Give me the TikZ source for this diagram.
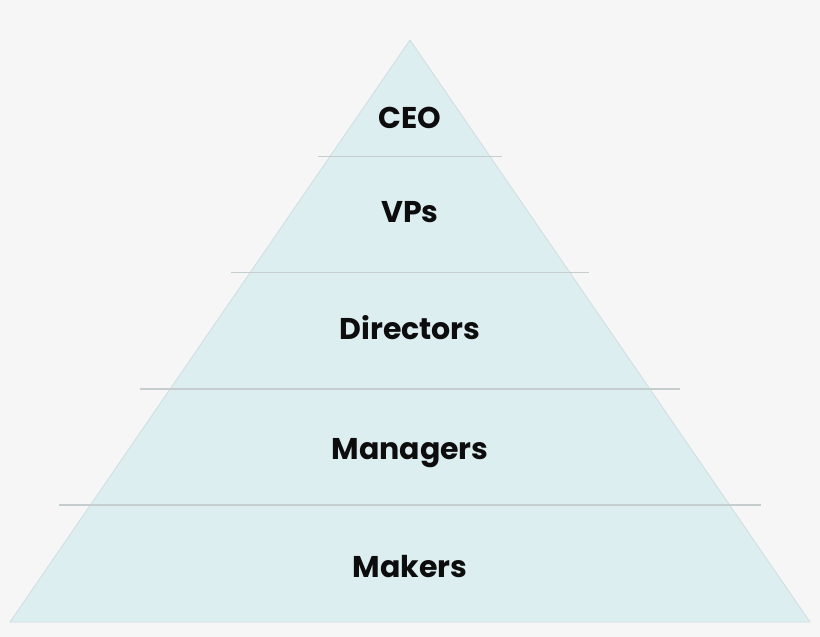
\documentclass[tikz,border=0pt]{standalone}
\usepackage{fontspec}
\setmainfont{Poppins}[BoldFont={* Bold}]
\definecolor{bgc}{HTML}{F6F6F6}
\definecolor{fillc}{HTML}{DDEEF1}
\definecolor{edgec}{HTML}{CFDEE1}
\definecolor{sepc}{HTML}{C5CDCF}
\definecolor{txtc}{HTML}{0D0D0D}
\tikzset{
  level/.style={font=\bfseries\fontsize{30}{34}\selectfont, text=txtc, inner sep=0pt, anchor=base},
  sep/.style={draw=sepc, line width=1.2pt},
}
\begin{document}
\begin{tikzpicture}[x=1pt,y=-1pt]
\fill[bgc] (0,0) rectangle (820,637);
\useasboundingbox (0,0) rectangle (820,637);
\coordinate (apex) at (410,40);
\coordinate (bl) at (10,622);
\coordinate (br) at (810,622);
\filldraw[fill=fillc, draw=edgec, line width=0.8pt, line join=miter] (apex) -- (br) -- (bl) -- cycle;
\coordinate (l1a) at (318,156.5); \coordinate (l1b) at (502,156.5);
\coordinate (l2a) at (231,272.5); \coordinate (l2b) at (589,272.5);
\coordinate (l3a) at (140,389); \coordinate (l3b) at (680,389);
\coordinate (l4a) at (59,505); \coordinate (l4b) at (761,505);
\draw[sep] (l1a) -- (l1b);
\draw[sep] (l2a) -- (l2b);
\draw[sep] (l3a) -- (l3b);
\draw[sep] (l4a) -- (l4b);
\node[level] (ceo) at (410,128) {CEO};
\node[level] (vps) at (410,222.5) {VPs};
\node[level] (dir) at (410,339.5) {Directors};
\node[level] (man) at (410,459) {Managers};
\node[level] (mak) at (410,577) {Makers};
\end{tikzpicture}
\end{document}
